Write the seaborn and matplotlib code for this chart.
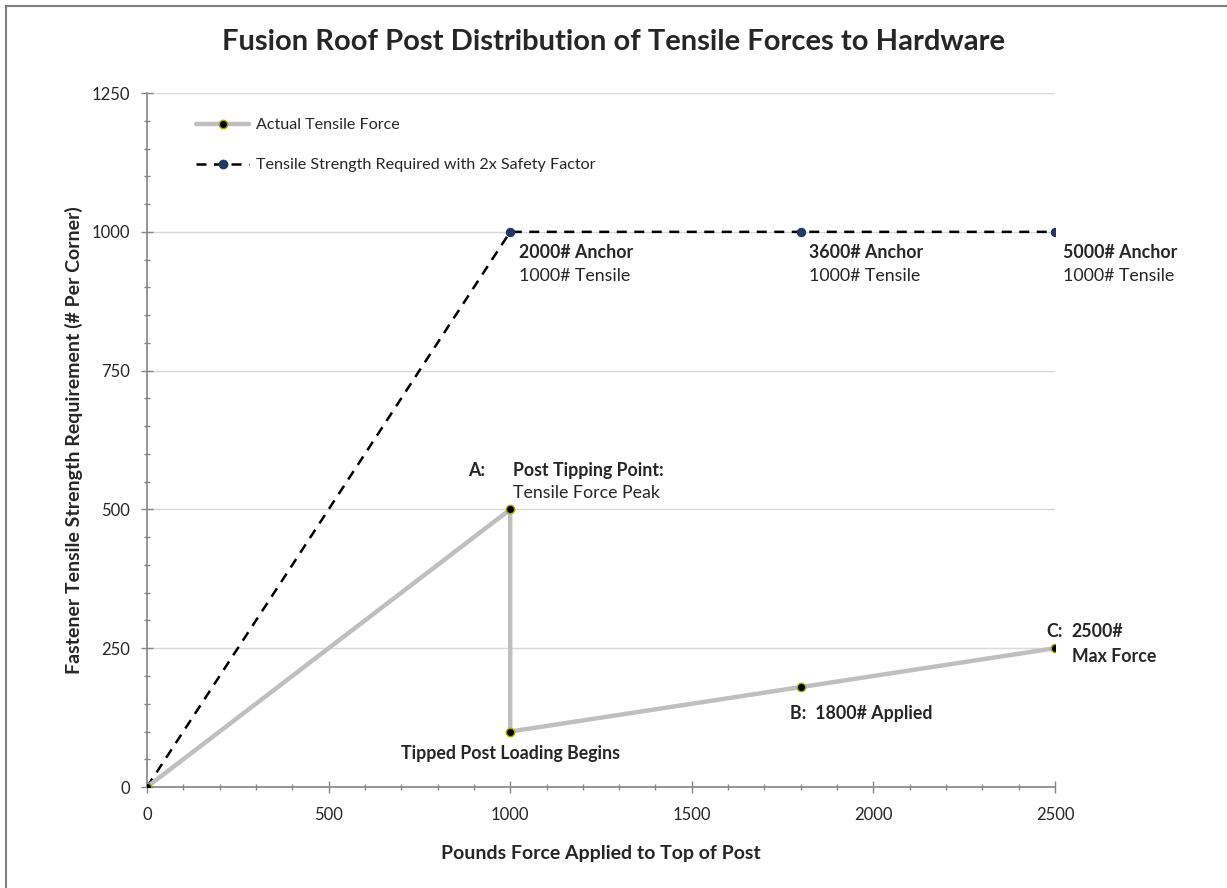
import matplotlib
matplotlib.use("Agg")

import matplotlib.pyplot as plt
import seaborn as sns
from matplotlib.lines import Line2D
from matplotlib.ticker import MultipleLocator

# data
actual_x = [0, 1000, 1000, 1800, 2500]
actual_y = [0, 500, 100, 180, 250]
required_x = [0, 1000, 1800, 2500]
required_y = [0, 1000, 1000, 1000]

anchor_x = [1000, 1800, 2500]
anchor_labels = ["2000# Anchor", "3600# Anchor", "5000# Anchor"]
tensile_label = "1000# Tensile"

sns.set_style("white")
plt.rcParams["font.family"] = ["Lato", "DejaVu Sans"]

fig = plt.figure(figsize=(12.27, 8.88), dpi=100)
ax = fig.add_axes([0.1198, 0.1137, 0.740, 0.7815])

sns.lineplot(x=required_x, y=required_y, sort=False, estimator=None, ax=ax,
             color="black", linewidth=1.8, linestyle=(0, (4, 3)),
             marker="o", markersize=6, markerfacecolor="#1f3864",
             markeredgecolor="#1f3864", zorder=3)
sns.lineplot(x=actual_x, y=actual_y, sort=False, estimator=None, ax=ax,
             color="#bfbfbf", linewidth=3.2,
             marker="o", markersize=6, markerfacecolor="black",
             markeredgecolor="#a6a600", markeredgewidth=1, zorder=4)

ax.set_xlim(0, 2500)
ax.set_ylim(0, 1250)
ax.set_xticks(range(0, 2501, 500))
ax.set_yticks(range(0, 1251, 250))
ax.xaxis.set_minor_locator(MultipleLocator(100))
ax.yaxis.set_minor_locator(MultipleLocator(50))
ax.grid(axis="y", which="major", color="#d9d9d9", linewidth=1)
ax.set_axisbelow(True)

for s in ["top", "right"]:
    ax.spines[s].set_visible(False)
for s in ["left", "bottom"]:
    ax.spines[s].set_color("#868686")
    ax.spines[s].set_linewidth(1.2)

ax.tick_params(axis="both", which="both", bottom=True, left=True,
               color="#868686", direction="inout", width=1)
ax.tick_params(axis="both", which="major", length=9, labelsize=12)
ax.tick_params(axis="both", which="minor", length=5)
ax.tick_params(axis="x", which="major", pad=10)
ax.tick_params(axis="y", which="major", pad=8)

ax.set_xlabel("Pounds Force Applied to Top of Post", fontsize=14,
              fontweight="bold", labelpad=16)
ax.set_ylabel("Fastener Tensile Strength Requirement (# Per Corner)",
              fontsize=14, fontweight="bold", labelpad=6)
fig.suptitle("Fusion Roof Post Distribution of Tensile Forces to Hardware",
             fontsize=21, fontweight="bold", x=0.5, y=0.967)

fs = 12.8
# anchor labels
for xa, lab in zip(anchor_x, anchor_labels):
    ax.annotate(lab, (xa, 1000), xytext=(6, -9), textcoords="offset points",
                fontsize=fs, fontweight="bold", va="top", ha="left")
    ax.annotate(tensile_label, (xa, 1000), xytext=(6, -26),
                textcoords="offset points", fontsize=fs, va="top", ha="left")

# point labels
ax.annotate("A:", (actual_x[1], actual_y[1]), xytext=(-30, 24),
            textcoords="offset points", fontsize=fs, fontweight="bold")
ax.annotate("Post Tipping Point:", (actual_x[1], actual_y[1]), xytext=(2, 24),
            textcoords="offset points", fontsize=fs, fontweight="bold")
ax.annotate("Tensile Force Peak", (actual_x[1], actual_y[1]), xytext=(2, 8),
            textcoords="offset points", fontsize=fs)
ax.annotate("Tipped Post Loading Begins", (actual_x[2], actual_y[2]),
            xytext=(0, -10), textcoords="offset points", fontsize=fs,
            fontweight="bold", ha="center", va="top")
ax.annotate("B:  1800# Applied", (actual_x[3], actual_y[3]), xytext=(-8, -13),
            textcoords="offset points", fontsize=fs, fontweight="bold",
            va="top")
ax.annotate("C:", (actual_x[4], actual_y[4]), xytext=(-6, 8),
            textcoords="offset points", fontsize=fs, fontweight="bold")
ax.annotate("2500#", (actual_x[4], actual_y[4]), xytext=(12, 8),
            textcoords="offset points", fontsize=fs, fontweight="bold")
ax.annotate("Max Force", (actual_x[4], actual_y[4]), xytext=(12, -10),
            textcoords="offset points", fontsize=fs, fontweight="bold")

handles = [
    Line2D([], [], color="#bfbfbf", linewidth=3.2, marker="o", markersize=6,
           markerfacecolor="black", markeredgecolor="#a6a600"),
    Line2D([], [], color="black", linewidth=1.8, linestyle=(0, (4, 3)),
           marker="o", markersize=6, markerfacecolor="#1f3864",
           markeredgecolor="#1f3864"),
]
ax.legend(handles, ["Actual Tensile Force",
                    "Tensile Strength Required with 2x Safety Factor"],
          loc="upper left", bbox_to_anchor=(0.038, 0.985), frameon=False,
          fontsize=11.6, handlelength=3.3, labelspacing=1.6, handletextpad=0.4)

# outer frame (top and left visible in reference)
fig.add_artist(Line2D([0.005, 0.005], [0, 0.993], transform=fig.transFigure,
                      color="#7f7f7f", linewidth=1.5))
fig.add_artist(Line2D([0.005, 1.0], [0.993, 0.993], transform=fig.transFigure,
                      color="#7f7f7f", linewidth=1.5))

fig.savefig("out.png", dpi=100)
plt.close(fig)
